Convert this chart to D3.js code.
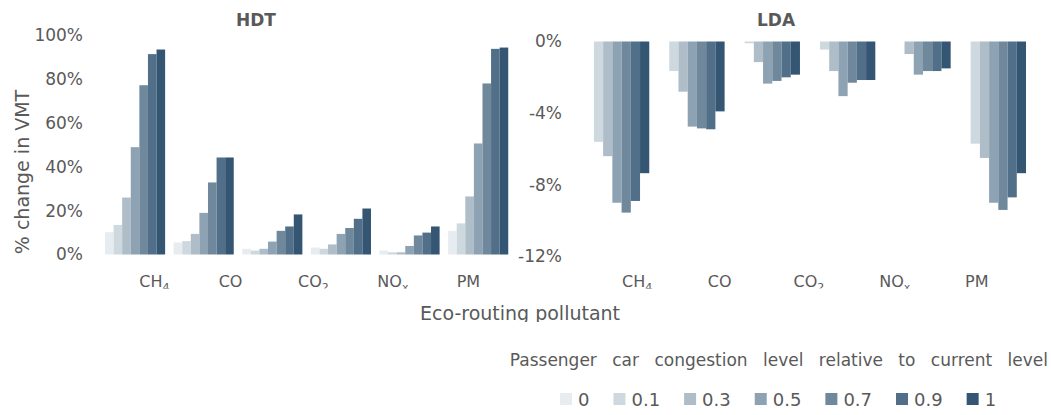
<!DOCTYPE html>
<html>
<head>
<meta charset="utf-8">
<script src="https://cdn.jsdelivr.net/npm/d3@7"></script>
<style>
  body { margin: 0; background: #fff; }
  svg { display: block; }
  text { font-family: "DejaVu Sans", sans-serif; fill: #595959; }
</style>
</head>
<body>
<svg id="chart" width="1051" height="415"></svg>
<script>
// ---------------- data ----------------
const levels = ["0", "0.1", "0.3", "0.5", "0.7", "0.9", "1"];
const levelColors = ["#e7ecf0", "#cdd8df", "#aebdc8", "#8da2b3", "#6f889c", "#516f88", "#345672"];
const groups = ["G1", "G2", "G3", "G4", "G5", "G6"];

// % change in VMT, one row per group, one value per congestion level
const hdtValues = [
  [10.2, 13.5, 26.0, 49.0, 77.3, 91.5, 93.6],
  [5.5, 6.1, 9.4, 19.0, 32.9, 44.3, 44.3],
  [2.6, 1.8, 2.6, 5.9, 10.8, 12.8, 18.3],
  [3.2, 2.6, 4.6, 9.4, 12.1, 16.3, 21.0],
  [1.8, 1.0, 1.0, 3.9, 8.7, 10.0, 12.8],
  [10.8, 14.2, 26.5, 50.7, 78.1, 93.9, 94.5]
];
const ldaValues = [
  [0, -5.6, -6.4, -9.0, -9.55, -8.9, -7.35],
  [0, -1.65, -2.8, -4.75, -4.85, -4.9, -3.9],
  [0, -0.1, -1.15, -2.35, -2.2, -2.0, -1.85],
  [0, -0.45, -1.65, -3.05, -2.3, -2.15, -2.15],
  [0, 0, -0.7, -1.85, -1.65, -1.65, -1.5],
  [0, -5.7, -6.5, -9.0, -9.4, -8.7, -7.35]
];
const pollutantLabels = ["CH", "CO", "CO", "NO", "PM"];
const pollutantSubs = ["4", "", "2", "x", ""];
const hdtTicks = [0, 20, 40, 60, 80, 100];
const ldaTicks = [0, -4, -8, -12];

// ---------------- drawing ----------------
const svg = d3.select("#chart");
const defs = svg.append("defs");
defs.append("clipPath").attr("id", "clipLabels")
  .append("rect").attr("x", 0).attr("y", 262).attr("width", 1051).attr("height", 26.5);
defs.append("clipPath").attr("id", "clipTitle")
  .append("rect").attr("x", 0).attr("y", 295).attr("width", 1051).attr("height", 27);

function panel(cfg) {
  const x0 = d3.scaleBand().domain(groups).range(cfg.xRange)
    .paddingInner(cfg.padInner).paddingOuter(cfg.padInner / 2);
  const x1 = d3.scaleBand().domain(levels).range([0, x0.bandwidth()]);
  const y = d3.scaleLinear().domain(cfg.yDomain).range(cfg.yRange);
  const color = d3.scaleOrdinal().domain(levels).range(levelColors);

  const g = svg.append("g");
  const gg = g.selectAll("g.grp").data(cfg.values).join("g")
    .attr("class", "grp")
    .attr("transform", (d, i) => `translate(${x0(groups[i])},0)`);
  gg.selectAll("rect").data(d => d.map((v, j) => ({ v, level: levels[j] }))).join("rect")
    .attr("x", d => x1(d.level))
    .attr("width", x1.bandwidth())
    .attr("y", d => y(Math.max(0, d.v)))
    .attr("height", d => Math.abs(y(d.v) - y(0)))
    .attr("fill", d => color(d.level));

  // y axis (labels only)
  const axis = d3.axisLeft(y).tickValues(cfg.ticks).tickSize(0).tickPadding(0)
    .tickFormat(d => d + "%");
  const ax = g.append("g").attr("transform", `translate(${cfg.axisX},0)`).call(axis);
  ax.select(".domain").remove();
  ax.selectAll("text").attr("font-size", 17).attr("fill", "#595959")
    .attr("font-family", "DejaVu Sans, sans-serif");

  // title
  g.append("text").attr("x", cfg.titleX).attr("y", 26).attr("text-anchor", "middle")
    .attr("font-size", 17).attr("font-weight", "bold").text(cfg.title);

  // category labels
  const lx = d3.scalePoint().domain(pollutantLabels.map((d, i) => i)).range(cfg.labelRange);
  const lt = g.append("g").attr("clip-path", "url(#clipLabels)")
    .selectAll("text").data(pollutantLabels).join("text")
    .attr("x", (d, i) => lx(i)).attr("y", 287).attr("font-size", 16);
  lt.append("tspan").text(d => d);
  lt.append("tspan").attr("font-size", 11).attr("dy", 4).text((d, i) => pollutantSubs[i]);
}

panel({
  title: "HDT", titleX: 256, values: hdtValues,
  xRange: [100.75, 512.5], padInner: 0.124,
  yDomain: [0, 100], yRange: [254.5, 35.5], ticks: hdtTicks, axisX: 83,
  labelRange: [139.3, 456.7]
});
panel({
  title: "LDA", titleX: 776, values: ldaValues,
  xRange: [579.3, 1031.4], padInner: 0.143,
  yDomain: [-12, 0], yRange: [256.5, 41.5], ticks: ldaTicks, axisX: 562,
  labelRange: [622, 965]
});

// y axis title
svg.append("text").attr("transform", "translate(29,172) rotate(-90)")
  .attr("text-anchor", "middle").attr("font-size", 19).text("% change in VMT");

// x axis title
svg.append("text").attr("clip-path", "url(#clipTitle)")
  .attr("x", 520).attr("y", 320).attr("text-anchor", "middle").attr("font-size", 19)
  .text("Eco-routing pollutant");

// legend
svg.append("text").attr("x", 1048).attr("y", 366).attr("text-anchor", "end")
  .attr("font-size", 17).attr("word-spacing", 10)
  .text("Passenger car congestion level relative to current level");

const leg = svg.append("g");
let lxPos = 560;
levels.forEach((lv, i) => {
  const it = leg.append("g").attr("transform", `translate(${lxPos},0)`);
  it.append("rect").attr("x", 0).attr("y", 393).attr("width", 12).attr("height", 12)
    .attr("fill", levelColors[i]);
  const t = it.append("text").attr("x", 18).attr("y", 406).attr("font-size", 18).text(lv);
  lxPos += 18 + t.node().getComputedTextLength() + 24;
});
</script>
</body>
</html>
